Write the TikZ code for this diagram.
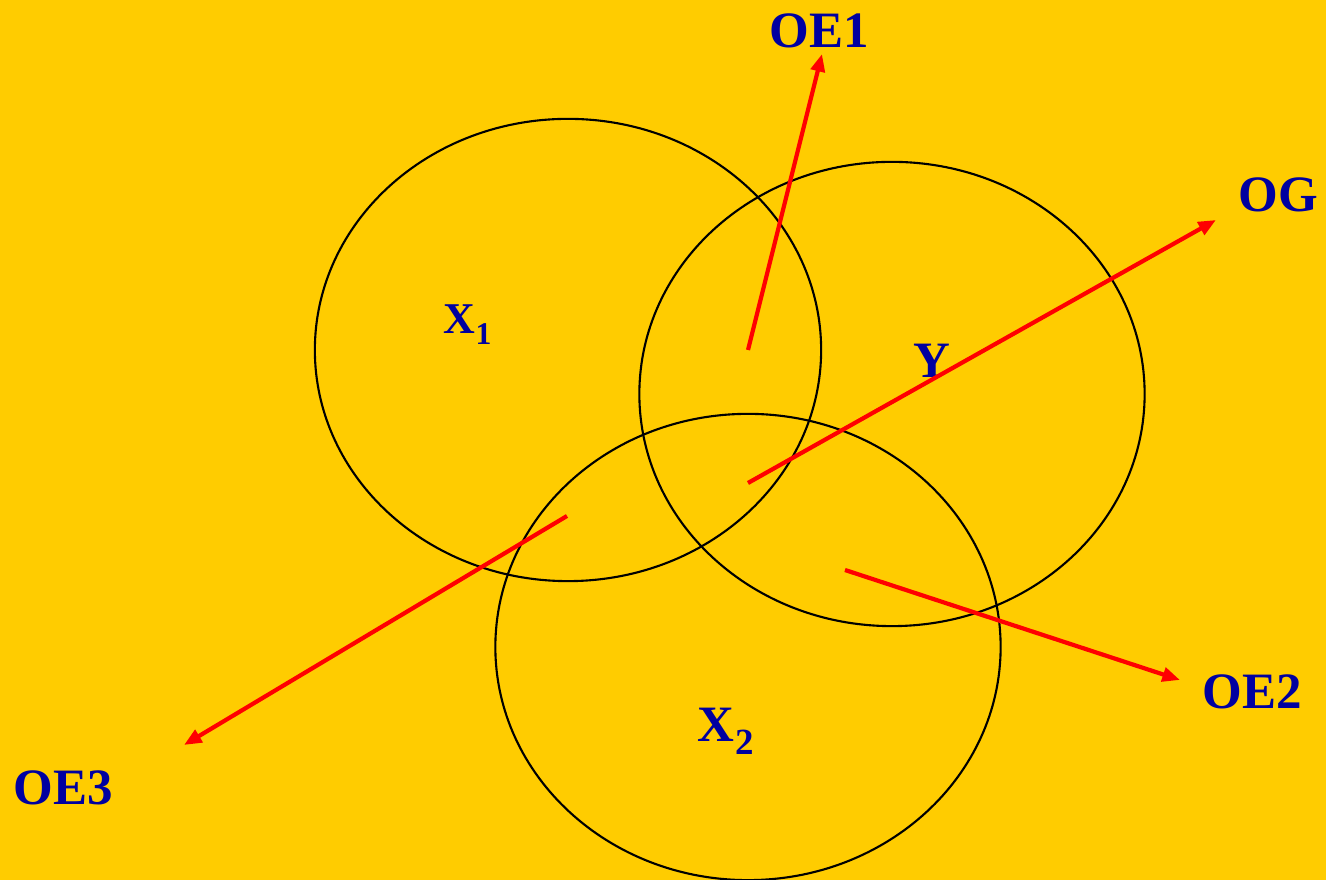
\documentclass[tikz,border=0pt]{standalone}
\usepackage{fontspec}
\setmainfont{Liberation Serif}
\usetikzlibrary{shapes.geometric,arrows.meta}
\definecolor{bg}{RGB}{255,204,0}
\definecolor{lbl}{RGB}{0,0,160}
\begin{document}
\begin{tikzpicture}[x=0.01cm,y=-0.01cm,
  circ/.style={draw=black,line width=0.6pt,ellipse,inner sep=0pt},
  arr/.style={draw=red,line width=1.2pt,-{Triangle[length=5pt,width=4pt]}},
  lab/.style={text=lbl,inner sep=0pt,anchor=base west},
  big/.style={lab,font=\fontsize{14.5}{16}\selectfont\bfseries}]
\fill[bg] (0,0) rectangle (1326,880);
\useasboundingbox (0,0) rectangle (1326,880);
\node[circ,minimum width=5.06cm,minimum height=4.62cm] (ex1) at (568,350) {};
\node[circ,minimum width=5.05cm,minimum height=4.64cm] (ey) at (892,394) {};
\node[circ,minimum width=5.05cm,minimum height=4.66cm] (ex2) at (748,647) {};
\node[lab,font=\fontsize{12.5}{14}\selectfont\bfseries] (tx1) at (443,334) {X};
\node[lab,font=\fontsize{9}{10}\selectfont\bfseries] (tx1s) at (475,345) {1};
\node[lab,font=\fontsize{14.5}{16}\selectfont\bfseries] (ty) at (913,378) {Y};
\node[lab,font=\fontsize{14.5}{16}\selectfont\bfseries] (tx2) at (697,742) {X};
\node[lab,font=\fontsize{10.5}{12}\selectfont\bfseries] (tx2s) at (735,755) {2};
\node[big] (oe1) at (769,48) {OE1};
\node[big] (og) at (1238,212) {OG};
\node[big] (oe2) at (1202,709) {OE2};
\node[big] (oe3) at (13,805) {OE3};
\coordinate (s1) at (748,350);
\coordinate (e1) at (822,54);
\coordinate (sg) at (748,483);
\coordinate (eg) at (1216,220);
\coordinate (s2) at (845,570);
\coordinate (e2) at (1180,680);
\coordinate (s3) at (567,516);
\coordinate (e3) at (184,745);
\draw[arr] (s1) -- (e1);
\draw[arr] (sg) -- (eg);
\draw[arr] (s2) -- (e2);
\draw[arr] (s3) -- (e3);
\end{tikzpicture}
\end{document}
